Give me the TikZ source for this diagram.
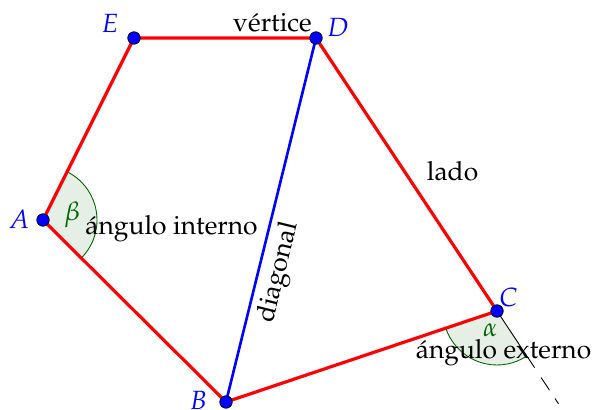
\documentclass[tikz,border=0pt]{standalone}
\usepackage[T1]{fontenc}
\usepackage{mathpazo}
\usepackage{amsmath}
\usepackage{tikz}
\usetikzlibrary{positioning,calc,angles}

\definecolor{verdeosc}{RGB}{0,100,0}
\definecolor{relleno}{RGB}{229,239,229}

\begin{document}
\begin{tikzpicture}[font=\fontsize{15}{18}\selectfont,
        lado/.style={red, line width=1.8pt},
        diag/.style={blue, line width=1.5pt},
        prolong/.style={black, line width=0.5pt, dash pattern=on 1.36cm off 0.24cm on 0.3cm off 0.2cm},
        punto/.style={circle, fill=blue, draw=black, line width=0.4pt, inner sep=0pt, minimum size=0.25cm},
        vert/.style={text=blue},
        angulo/.style={draw=verdeosc, fill=relleno, line width=0.5pt, angle radius=1.08cm,
            pic text options={text=verdeosc}}]
        \useasboundingbox (0,0) rectangle (11.86,8.2);
        % Vertici
        \coordinate (A) at (0.86,3.80);
        \coordinate (B) at (4.52,0.16);
        \coordinate (C) at (9.94,1.98);
        \coordinate (D) at (6.32,7.44);
        \coordinate (E) at (2.68,7.44);
        \coordinate (X) at ($(C)!-0.34!(D)$);
        % Angoli
        \pic[angulo, pic text={$\beta$}, angle eccentricity=0.55] {angle = B--A--E};
        \pic[angulo, pic text={$\alpha$}, angle eccentricity=0.38] {angle = B--C--X};
        % Prolungamento del lato DC
        \draw[prolong] (C) -- (X);
        % Lati e diagonale
        \draw[lado] (A) -- (B) -- (C) -- (D) -- (E) -- cycle;
        \draw[diag] (B) -- node[sloped, below, pos=0.37, text=black] (diagonal) {diagonal} (D);
        % Punti
        \foreach \v in {A,B,C,D,E}
            \node[punto] (p\v) at (\v) {};
        % Etichette dei vertici
        \node[vert] (etA) at (0.38,3.81) {$A$};
        \node[vert] (etB) at (3.97,0.19) {$B$};
        \node[vert] (etC) at (10.17,2.25) {$C$};
        \node[vert] (etD) at (6.76,7.66) {$D$};
        \node[vert] (etE) at (2.20,7.73) {$E$};
        % Testi
        \node (vertice) at (5.45,7.74) {v\'ertice};
        \node (ladotxt) at (9.05,4.78) {lado};
        \node (interno) at (3.43,3.62) {\'angulo interno};
        \node (externo) at (10.07,1.15) {\'angulo externo};
\end{tikzpicture}
\end{document}
